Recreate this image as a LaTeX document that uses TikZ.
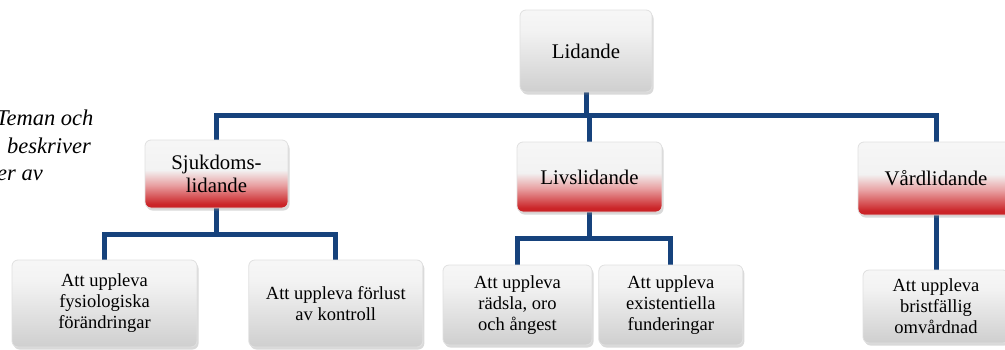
\documentclass[tikz,border=0pt]{standalone}
\usepackage{fontspec}
\setmainfont{Liberation Serif}
\usepackage{tikz}
\usetikzlibrary{positioning}
\usetikzlibrary{shadows,backgrounds}
\definecolor{treeblue}{RGB}{22,66,124}
\definecolor{deepred}{RGB}{196,8,12}
\pgfdeclareverticalshading{glossgray}{100bp}{color(0bp)=(black!28); color(30bp)=(black!17); color(62bp)=(black!5); color(100bp)=(white)}
\pgfdeclareverticalshading{glossred}{100bp}{color(0bp)=(deepred!80!black); color(10bp)=(deepred); color(28bp)=(deepred!88!white); color(42bp)=(deepred!38!white); color(53bp)=(black!5); color(80bp)=(black!3); color(100bp)=(white)}
\tikzstyle{tree edge}=[draw=treeblue,line width=5pt]
\tikzstyle{gloss box}=[rounded corners=6pt,draw=black!12,line width=0.8pt,align=center,inner sep=2pt,
  drop shadow={shadow xshift=1.5pt,shadow yshift=-2.5pt,opacity=0.3}]
\tikzstyle{theme box}=[gloss box,shading=glossred,font=\fontsize{20.8}{23}\selectfont]
\tikzstyle{top box}=[gloss box,shading=glossgray,font=\fontsize{20.8}{23}\selectfont]
\tikzstyle{sub box}=[gloss box,shading=glossgray,font=\fontsize{18.5}{21}\selectfont]
\tikzstyle{caption frag}=[anchor=base west,inner sep=0pt,font=\fontsize{22.5}{27}\selectfont\itshape]
\newcommand{\themenode}[3][]{
  \node [theme box, #1] (#2) {#3}
}
\newcommand{\subnode}[3][]{
  \node [sub box, #1] (#2) {#3}
}

\begin{document}
\begin{tikzpicture}[x=1pt,y=-1pt]
        \useasboundingbox (0,0) rectangle (1005,349);
        \node [top box, minimum width=132pt, minimum height=82pt] (root) at (586,51) {Lidande};
        \themenode[at={(216.5,174)}, minimum width=143pt, minimum height=68pt]{sjuk}{Sjukdoms-\\lidande};
        \themenode[at={(589.5,177)}, minimum width=145pt, minimum height=70pt]{livs}{Livslidande};
        \themenode[at={(936,178.5)}, minimum width=156pt, minimum height=73pt]{vard}{Vårdlidande};
         \subnode[at={(104.5,303.5)}, minimum width=185pt, minimum height=87pt]{fysio}{Att uppleva\\fysiologiska\\förändringar};
         \subnode[right=51pt of fysio, minimum width=174pt, minimum height=87pt]{kontroll}{Att uppleva förlust\\av kontroll};
         \subnode[at={(517.5,305)}, minimum width=149pt, minimum height=80pt]{radsla}{Att uppleva\\rädsla, oro\\och ångest};
         \subnode[right=6pt of radsla, minimum width=144pt, minimum height=80pt]{exist}{Att uppleva\\existentiella\\funderingar};
         \subnode[at={(936,306.5)}, minimum width=146pt, minimum height=73pt]{brist}{Att uppleva\\bristfällig\\omvårdnad};

  \begin{scope}[on background layer]
      \draw[tree edge] (root.south) -- ++(0,23) -| (sjuk.north);
      \draw[tree edge] (root.south) -- ++(0,23) -| (livs.north);
      \draw[tree edge] (root.south) -- ++(0,23) -| (vard.north);
            \draw[tree edge] (sjuk.south) -- ++(0,26) -| (fysio.north);
            \draw[tree edge] (sjuk.south) -- ++(0,26) -| (kontroll.north);
                  \draw[tree edge] (livs.south) -- ++(0,26) -| (radsla.north);
                  \draw[tree edge] (livs.south) -- ++(0,26) -| (exist.north);
                        \draw[tree edge] (vard.south) -- (brist.north);
  \end{scope}

% cut-off caption beside the tree
\node[caption frag] (cap1) at (-4,125) {Teman och};
\node[caption frag] (cap2) at (7,153) {beskriver};
\node[caption frag] (cap3) at (-3,180) {er av};

      \end{tikzpicture}
\end{document}
